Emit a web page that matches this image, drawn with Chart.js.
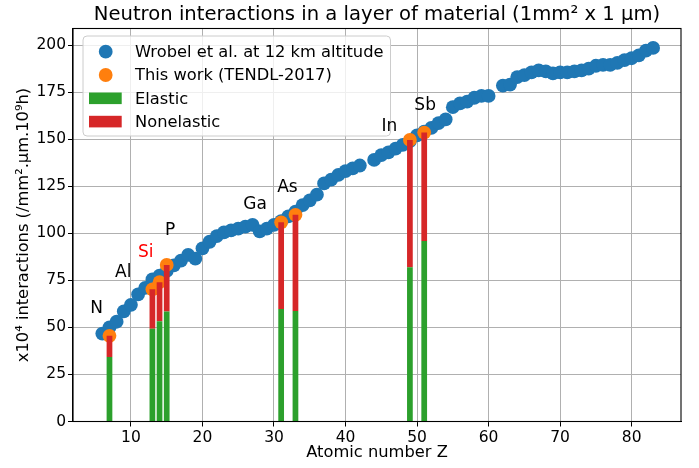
<!DOCTYPE html>
<html>
<head>
<meta charset="utf-8">
<script src="https://cdn.jsdelivr.net/npm/chart.js@4.4.0/dist/chart.umd.min.js"></script>
<style>
html,body{margin:0;padding:0;background:#ffffff;}
#wrap{width:699px;height:468px;position:relative;}
</style>
</head>
<body>
<div id="wrap"><canvas id="c" width="699" height="468"></canvas></div>
<script>
// ---- data ----
const wrobelZ = [6,7,8,9,10,11,12,13,14,15,16,17,18,19,20,21,22,23,24,25,26,27,28,29,30,31,32,33,34,35,36,37,38,39,40,41,42,44,45,46,47,48,49,50,51,52,53,54,55,56,57,58,59,60,62,63,64,65,66,67,68,69,70,71,72,73,74,75,76,77,78,79,80,81,82,83];
const wrobelValues = [46.7,50,53,58.5,62,67.5,71,75.5,77.5,80,83,85.5,88.5,86.5,92,95.5,98.5,100.5,101.5,102.5,103.5,104.5,101,102.5,104.5,106.5,109,111.5,115,117.5,120.5,126.5,128.5,131,133,134.5,136,139,141.5,143,145,147,149,152,154,156,158.5,160.5,167,169,170,172,173,173,178.5,179,183,184,185.5,186.5,186,185,185.5,185.5,186,186.5,187.5,189,189.5,189.5,190.5,192,193,194.5,197,198.5];

const tendlZ = [7,13,14,15,31,33,49,51];
const tendlValues = [45.5,70.2,74,83.2,105.8,109.8,149.6,153.5];
const elasticValues = [34.3,49.3,53.2,58.5,59.8,58.7,82,95.9];
const nonelasticValues = [11.2,20.9,20.8,24.7,46,51.1,67.6,57.6];

const elementNames = ['N','Al','Si','P','Ga','As','In','Sb'];

const xTickValues = [10,20,30,40,50,60,70,80];
const yTickValues = [0,25,50,75,100,125,150,175,200];

// label placement (data coordinates) and colours, kept apart from the data
const elementLabelPlacement = {
  z:   [5.2, 8.93, 12.07, 15.47, 27.35, 31.87, 46.14, 51.13],
  val: [60.1, 79.0, 89.7, 101.4, 115.0, 124.4, 156.6, 168.1],
  color: ['#000','#000','#ff0000','#000','#000','#000','#000','#000']
};

const FONT = '"DejaVu Sans", "Liberation Sans", sans-serif';

const overlayPlugin = {
  id: 'overlay',
  afterDatasetsDraw(chart) {
    const {ctx, chartArea: a, scales: {x, y}} = chart;
    ctx.save();
    // axes frame (all four spines)
    ctx.strokeStyle = '#000000';
    ctx.lineWidth = 1.1;
    ctx.strokeRect(a.left, a.top, a.right - a.left, a.bottom - a.top);

    // legend (upper left, inside the axes)
    const ds = chart.data.datasets;
    const legendOrder = [0, 1, 2, 3];
    ctx.font = '16.3px ' + FONT;
    let maxW = 0;
    legendOrder.forEach(i => { maxW = Math.max(maxW, ctx.measureText(ds[i].label).width); });
    const bx = a.left + 10, by = a.top + 7.5;
    const textX = bx + 52;
    const bw = textX - bx + maxW + 7, bh = 100;
    const r = 4;
    ctx.beginPath();
    ctx.moveTo(bx + r, by);
    ctx.lineTo(bx + bw - r, by);
    ctx.quadraticCurveTo(bx + bw, by, bx + bw, by + r);
    ctx.lineTo(bx + bw, by + bh - r);
    ctx.quadraticCurveTo(bx + bw, by + bh, bx + bw - r, by + bh);
    ctx.lineTo(bx + r, by + bh);
    ctx.quadraticCurveTo(bx, by + bh, bx, by + bh - r);
    ctx.lineTo(bx, by + r);
    ctx.quadraticCurveTo(bx, by, bx + r, by);
    ctx.closePath();
    ctx.fillStyle = 'rgba(255,255,255,0.8)';
    ctx.fill();
    ctx.strokeStyle = '#cccccc';
    ctx.lineWidth = 1;
    ctx.stroke();
    const rowY = [by + 15.7, by + 39, by + 62.3, by + 85.6];
    legendOrder.forEach((i, k) => {
      const d = ds[i];
      const cy = rowY[k];
      if (d.type === 'bar') {
        ctx.fillStyle = d.backgroundColor;
        ctx.fillRect(bx + 6, cy - 5.8, 32.7, 11.6);
      } else {
        ctx.fillStyle = d.pointBackgroundColor;
        ctx.beginPath();
        ctx.arc(bx + 22.7, cy, d.pointRadius, 0, Math.PI * 2);
        ctx.fill();
      }
      ctx.fillStyle = '#000000';
      ctx.textAlign = 'left';
      ctx.textBaseline = 'middle';
      ctx.fillText(d.label, textX, cy + 1);
    });

    // element annotations
    ctx.font = '17px ' + FONT;
    ctx.textAlign = 'center';
    ctx.textBaseline = 'middle';
    elementNames.forEach((name, i) => {
      ctx.fillStyle = elementLabelPlacement.color[i];
      ctx.fillText(name, x.getPixelForValue(elementLabelPlacement.z[i]), y.getPixelForValue(elementLabelPlacement.val[i]));
    });

    // title centred over the axes
    ctx.font = '19.6px ' + FONT;
    ctx.fillStyle = '#000000';
    ctx.textAlign = 'center';
    ctx.textBaseline = 'middle';
    ctx.fillText('Neutron interactions in a layer of material (1mm\u00B2 x 1 \u00B5m)', (a.left + a.right) / 2, 15);
    ctx.restore();
  }
};

Chart.defaults.font.family = FONT;
Chart.defaults.color = '#000000';

new Chart(document.getElementById('c'), {
  type: 'scatter',
  data: {
    datasets: [
      {
        label: 'Wrobel et al. at 12 km altitude',
        type: 'scatter',
        data: wrobelZ.map((z, i) => ({x: z, y: wrobelValues[i]})),
        pointRadius: 6.9,
        pointBackgroundColor: '#1f77b4',
        pointBorderWidth: 0,
        borderWidth: 0,
        stack: 'wrobel',
        order: 3
      },
      {
        label: 'This work (TENDL-2017)',
        type: 'scatter',
        data: tendlZ.map((z, i) => ({x: z, y: tendlValues[i]})),
        pointRadius: 6.9,
        pointBackgroundColor: '#ff7f0e',
        pointBorderWidth: 0,
        borderWidth: 0,
        stack: 'tendl',
        order: 2
      },
      {
        label: 'Elastic',
        type: 'bar',
        data: tendlZ.map((z, i) => ({x: z, y: elasticValues[i]})),
        backgroundColor: '#2ca02c',
        borderWidth: 0,
        barPercentage: 0.8,
        categoryPercentage: 1.0,
        stack: 'bars',
        order: 1
      },
      {
        label: 'Nonelastic',
        type: 'bar',
        data: tendlZ.map((z, i) => ({x: z, y: nonelasticValues[i]})),
        backgroundColor: '#d62728',
        borderWidth: 0,
        barPercentage: 0.8,
        categoryPercentage: 1.0,
        stack: 'bars',
        order: 1
      }
    ]
  },
  options: {
    responsive: false,
    devicePixelRatio: 1,
    animation: false,
    events: [],
    layout: {padding: {left: 0, right: 18, top: 28.5, bottom: 0}},
    plugins: {
      legend: {display: false},
      title: {display: false},
      tooltip: {enabled: false}
    },
    scales: {
      x: {
        type: 'linear',
        offset: false,
        min: 1.9,
        max: 86.9,
        afterBuildTicks: s => { s.ticks = xTickValues.map(v => ({value: v})); },
        afterFit: s => { s.height = 46.5; },
        grid: {offset: false, color: '#b0b0b0', lineWidth: 1, drawTicks: true, tickLength: 5, tickColor: '#000000'},
        border: {color: '#000000', width: 1.1},
        ticks: {font: {size: 15.5}, padding: 2, maxRotation: 0, color: '#000000'},
        title: {display: true, text: 'Atomic number Z', font: {size: 16.3}, padding: {top: 0, bottom: 5}, color: '#000000'}
      },
      y: {
        type: 'linear',
        offset: false,
        stacked: true,
        min: 0,
        max: 208.8,
        afterBuildTicks: s => { s.ticks = yTickValues.map(v => ({value: v})); },
        afterFit: s => { s.width = 73; },
        grid: {offset: false, color: '#b0b0b0', lineWidth: 1, drawTicks: true, tickLength: 5, tickColor: '#000000'},
        border: {color: '#000000', width: 1.1},
        ticks: {font: {size: 15.5}, padding: 2, color: '#000000'},
        title: {display: true, text: 'x10\u2074 interactions (/mm\u00B2.\u00B5m.10\u2079h)', font: {size: 16.3}, padding: {top: 14, bottom: 0}, color: '#000000'}
      }
    }
  },
  plugins: [overlayPlugin]
});
</script>
</body>
</html>
